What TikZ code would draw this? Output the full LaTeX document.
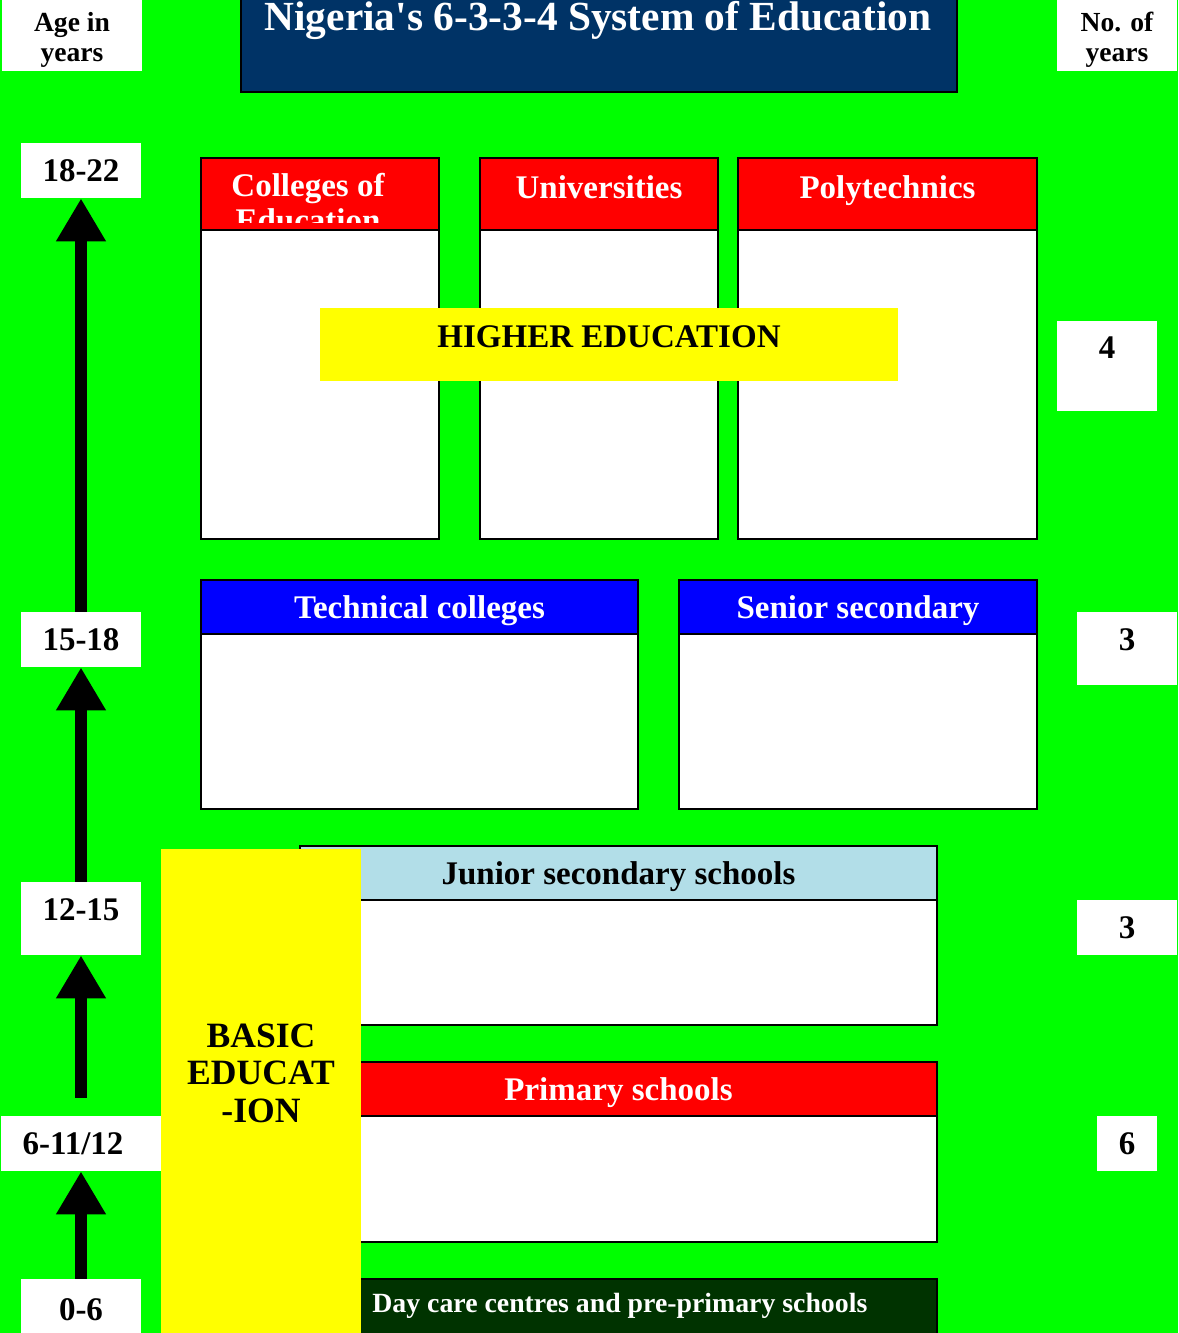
\documentclass[tikz,border=0pt]{standalone}
\usepackage{fontspec}
\setmainfont{Liberation Serif}
\usetikzlibrary{arrows.meta}

\definecolor{bggreen}{RGB}{0,255,0}
\definecolor{titleblue}{RGB}{0,51,102}
\definecolor{jsblue}{RGB}{178,222,232}
\definecolor{dcgreen}{RGB}{0,51,0}
\definecolor{hlyellow}{RGB}{255,255,0}

\begin{document}
\begin{tikzpicture}
[x=0.5pt, y=-0.5pt, every node/.style={inner sep=0pt, font=\bfseries},
 whitebox/.style={rectangle, fill=white},
 framed/.style={rectangle, draw=black, line width=1pt},
 bigtext/.style={font=\fontsize{16.5}{19}\bfseries, text depth=0pt},
 uparrow/.style={line width=6pt, -{Triangle[width=23.5pt, length=21.5pt]}}]

\useasboundingbox (0,0) rectangle (1178,1333);
\clip (0,0) rectangle (1178,1333);
\fill [bggreen] (0,0) rectangle (1178,1333);

% title and column heads
\node (titlebox) [framed, fill=titleblue, minimum width=358pt, minimum height=66pt] at (599,26) {};
\node (title) [text=white, font=\fontsize{20.7}{24}\bfseries, text depth=0pt] at (598,16.3) {Nigeria\textquotesingle s 6-3-3-4 System of Education};
\node (agehead) [whitebox, minimum width=70pt, minimum height=35.5pt] at (72,35.5) {};
\node (agetext) [align=center, font=\fontsize{13.8}{15}\bfseries] at (72,39.5) {Age in\\years};
\node (yearshead) [whitebox, minimum width=60pt, minimum height=35.5pt] at (1117,35.5) {};
\node (yearstext) [align=center, font=\fontsize{13.8}{15}\bfseries] at (1117,39.5) {No. of\\years};

% higher education
\node (coehead) [framed, fill=red, minimum width=119pt, minimum height=36pt] at (320,194) {};
\begin{scope}
\clip (203,160) rectangle (437,222);
\node (coetext) [text=white, align=center, font=\fontsize{16.5}{17.5}\bfseries] at (308,203) {Colleges of\\Education};
\end{scope}
\node (coebody) [framed, fill=white, minimum width=119pt, minimum height=154.5pt] at (320,384.5) {};
\node (unihead) [framed, fill=red, text=white, minimum width=119pt, minimum height=36pt, bigtext, text depth=7pt] at (599,194) {Universities};
\node (unibody) [framed, fill=white, minimum width=119pt, minimum height=154.5pt] at (599,384.5) {};
\node (polyhead) [framed, fill=red, text=white, minimum width=149.5pt, minimum height=36pt, bigtext, text depth=7pt] at (887.5,194) {Polytechnics};
\node (polybody) [framed, fill=white, minimum width=149.5pt, minimum height=154.5pt] at (887.5,384.5) {};
\node (higher) [fill=hlyellow, minimum width=289pt, minimum height=36.5pt, bigtext, text depth=7.5pt] at (609,344.5) {HIGHER EDUCATION};

% senior level
\node (techhead) [framed, fill=blue, text=white, minimum width=218.5pt, minimum height=27pt, bigtext] at (419.5,607) {Technical colleges};
\node (techbody) [framed, fill=white, minimum width=218.5pt, minimum height=87.5pt] at (419.5,721.5) {};
\node (sshead) [framed, fill=blue, text=white, minimum width=179pt, minimum height=27pt, bigtext] at (858,607) {Senior secondary};
\node (ssbody) [framed, fill=white, minimum width=179pt, minimum height=87.5pt] at (858,721.5) {};

% basic level
\node (jshead) [framed, fill=jsblue, minimum width=318.5pt, minimum height=27pt, bigtext] at (618.5,873) {Junior secondary schools};
\node (jsbody) [framed, fill=white, minimum width=318.5pt, minimum height=62.5pt] at (618.5,962.5) {};
\node (prihead) [framed, fill=red, text=white, minimum width=318.5pt, minimum height=27pt, bigtext] at (618.5,1089) {Primary schools};
\node (pribody) [framed, fill=white, minimum width=318.5pt, minimum height=63pt] at (618.5,1179) {};
\node (daycare) [framed, fill=dcgreen, minimum width=318.5pt, minimum height=30.5pt] at (618.5,1309.5) {};
\node (dctext) [text=white, font=\fontsize{13.9}{15}\bfseries, anchor=base west] at (372,1312) {Day care centres and pre-primary schools};
\node (basicbox) [fill=hlyellow, minimum width=100pt, minimum height=245.5pt] at (261,1094.5) {};
\node (basic) [align=center, font=\fontsize{17.8}{18.75}\bfseries] at (261,1073) {BASIC\\EDUCAT\\-ION};

% no. of years
\node (yrs4) [whitebox, minimum width=50pt, minimum height=45pt, bigtext, text depth=18pt] at (1107,366) {4};
\node (yrs3a) [whitebox, minimum width=50pt, minimum height=36.5pt, bigtext, text depth=8.5pt] at (1127,648.5) {3};
\node (yrs3b) [whitebox, minimum width=50pt, minimum height=27.5pt, bigtext] at (1127,927.5) {3};
\node (yrs6) [whitebox, minimum width=30pt, minimum height=27.5pt, bigtext] at (1127,1143.5) {6};

% ages
\node (a1822) [whitebox, minimum width=60pt, minimum height=27.5pt, bigtext] at (81,170.5) {18-22};
\node (a1518) [whitebox, minimum width=60pt, minimum height=27.5pt, bigtext] at (81,639.5) {15-18};
\node (a1215) [whitebox, minimum width=60pt, minimum height=36.5pt, bigtext, text depth=8.5pt] at (81,918.5) {12-15};
\node (a611) [whitebox, minimum width=80pt, minimum height=27.5pt, bigtext] at (81,1143.5) {6-11/12\kern8pt};
\node (a06) [whitebox, minimum width=60pt, minimum height=30.5pt, bigtext] at (81,1309.5) {0-6};

\draw [uparrow] (a06) -- (a611);
\draw [uparrow] ([yshift=9pt]a611.north) -- (a1215);
\draw [uparrow] (a1215) -- (a1518);
\draw [uparrow] (a1518) -- (a1822);
\end{tikzpicture}
\end{document}
